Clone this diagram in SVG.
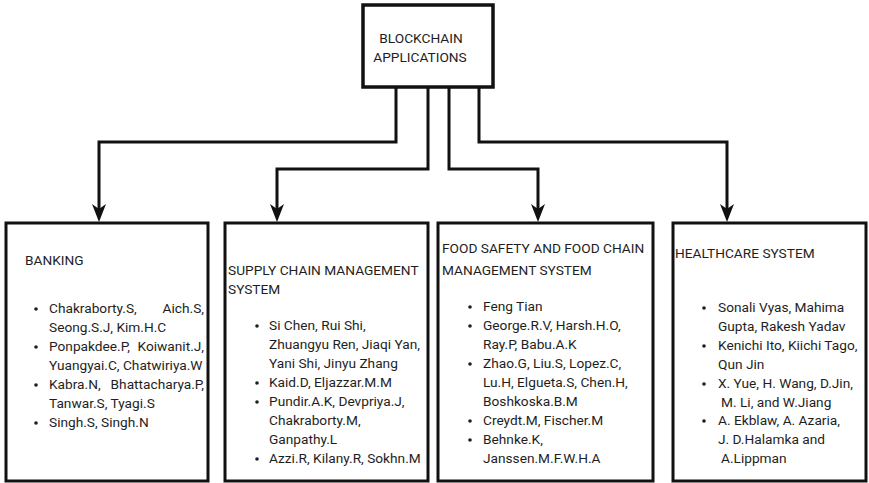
<svg xmlns="http://www.w3.org/2000/svg" width="869" height="483" viewBox="0 0 869 483">
  <style>
    .box { fill: #ffffff; stroke: #111111; stroke-width: 3; }
    .root { fill: #ffffff; stroke: #111111; stroke-width: 3.5; }
    .wire { fill: none; stroke: #111111; stroke-width: 3; stroke-linejoin: miter; }
    text { font-family: Roboto, "Liberation Sans", Arial, sans-serif; font-size: 13.7px; fill: #1e1e1e; }
    .end { text-anchor: end; }
    .mid { text-anchor: middle; }
  </style>
  <defs>
    <marker id="arrow" markerUnits="userSpaceOnUse" markerWidth="20" markerHeight="16" viewBox="0 -8 20 16" refX="12" refY="0" orient="auto">
      <path d="M0,-7 L18,0 L0,7 L5,0 z" fill="#111111"/>
    </marker>
    <circle id="dot" r="1.8" fill="#1e1e1e"/>
  </defs>

  <rect width="869" height="483" fill="#ffffff"/>

  <!-- connectors from the root node down to the four category boxes -->
  <g id="connectors">
    <path class="wire" d="M396,88 V142 H99 V216" marker-end="url(#arrow)"/>
    <path class="wire" d="M428,88 V169 H277 V216" marker-end="url(#arrow)"/>
    <path class="wire" d="M449,88 V169 H538 V216" marker-end="url(#arrow)"/>
    <path class="wire" d="M479,88 V142 H727 V216" marker-end="url(#arrow)"/>
  </g>

  <!-- root node -->
  <g id="root">
    <rect class="root" x="363" y="5" width="130" height="82"/>
    <text class="mid" x="421" y="43">BLOCKCHAIN</text>
    <text class="mid" x="420" y="62">APPLICATIONS</text>
  </g>

  <!-- banking -->
  <g id="banking">
    <rect class="box" x="6" y="223" width="202" height="258"/>
    <text x="25" y="265">BANKING</text>
    <use href="#dot" x="36" y="309"/>
    <text x="49" y="313">Chakraborty.S,</text>
    <text class="end" x="204" y="313">Aich.S,</text>
    <text x="49" y="332">Seong.S.J, Kim.H.C</text>
    <use href="#dot" x="36" y="347"/>
    <text x="49" y="351">Ponpakdee.P,</text>
    <text class="end" x="204" y="351">Koiwanit.J,</text>
    <text x="49" y="370">Yuangyai.C, Chatwiriya.W</text>
    <use href="#dot" x="36" y="385"/>
    <text x="49" y="389">Kabra.N,</text>
    <text class="end" x="204" y="389">Bhattacharya.P,</text>
    <text x="49" y="408">Tanwar.S, Tyagi.S</text>
    <use href="#dot" x="36" y="423"/>
    <text x="49" y="427">Singh.S, Singh.N</text>
  </g>

  <!-- supply chain management -->
  <g id="supply-chain">
    <rect class="box" x="225" y="223" width="203" height="258"/>
    <text x="228" y="275">SUPPLY CHAIN MANAGEMENT</text>
    <text x="228" y="294">SYSTEM</text>
    <use href="#dot" x="257" y="326"/>
    <text x="269" y="330">Si Chen, Rui Shi,</text>
    <text x="269" y="349">Zhuangyu Ren, Jiaqi Yan,</text>
    <text x="269" y="368">Yani Shi, Jinyu Zhang</text>
    <use href="#dot" x="257" y="383"/>
    <text x="269" y="387">Kaid.D, Eljazzar.M.M</text>
    <use href="#dot" x="257" y="402"/>
    <text x="269" y="406">Pundir.A.K, Devpriya.J,</text>
    <text x="269" y="425">Chakraborty.M,</text>
    <text x="269" y="444">Ganpathy.L</text>
    <use href="#dot" x="257" y="459"/>
    <text x="269" y="463">Azzi.R, Kilany.R, Sokhn.M</text>
  </g>

  <!-- food safety and food chain management -->
  <g id="food-chain">
    <rect class="box" x="438" y="223" width="215" height="258"/>
    <text x="442" y="253">FOOD SAFETY AND FOOD CHAIN</text>
    <text x="442" y="275">MANAGEMENT SYSTEM</text>
    <use href="#dot" x="470" y="307"/>
    <text x="483" y="311">Feng Tian</text>
    <use href="#dot" x="470" y="326"/>
    <text x="483" y="330">George.R.V, Harsh.H.O,</text>
    <text x="483" y="349">Ray.P, Babu.A.K</text>
    <use href="#dot" x="470" y="364"/>
    <text x="483" y="368">Zhao.G, Liu.S, Lopez.C,</text>
    <text x="483" y="387">Lu.H, Elgueta.S, Chen.H,</text>
    <text x="483" y="406">Boshkoska.B.M</text>
    <use href="#dot" x="470" y="421"/>
    <text x="483" y="425">Creydt.M, Fischer.M</text>
    <use href="#dot" x="470" y="440"/>
    <text x="483" y="444">Behnke.K,</text>
    <text x="483" y="463">Janssen.M.F.W.H.A</text>
  </g>

  <!-- healthcare -->
  <g id="healthcare">
    <rect class="box" x="673" y="223" width="193" height="258"/>
    <text x="675" y="258">HEALTHCARE SYSTEM</text>
    <use href="#dot" x="704" y="308"/>
    <text x="718" y="312">Sonali Vyas, Mahima</text>
    <text x="718" y="331">Gupta, Rakesh Yadav</text>
    <use href="#dot" x="704" y="346"/>
    <text x="718" y="350">Kenichi Ito, Kiichi Tago,</text>
    <text x="718" y="369">Qun Jin</text>
    <use href="#dot" x="704" y="384"/>
    <text x="718" y="388">X. Yue, H. Wang, D.Jin,</text>
    <text x="721" y="407">M. Li, and W.Jiang</text>
    <use href="#dot" x="704" y="421"/>
    <text x="718" y="425">A. Ekblaw, A. Azaria,</text>
    <text x="718" y="444">J. D.Halamka and</text>
    <text x="721" y="463">A.Lippman</text>
  </g>
</svg>
